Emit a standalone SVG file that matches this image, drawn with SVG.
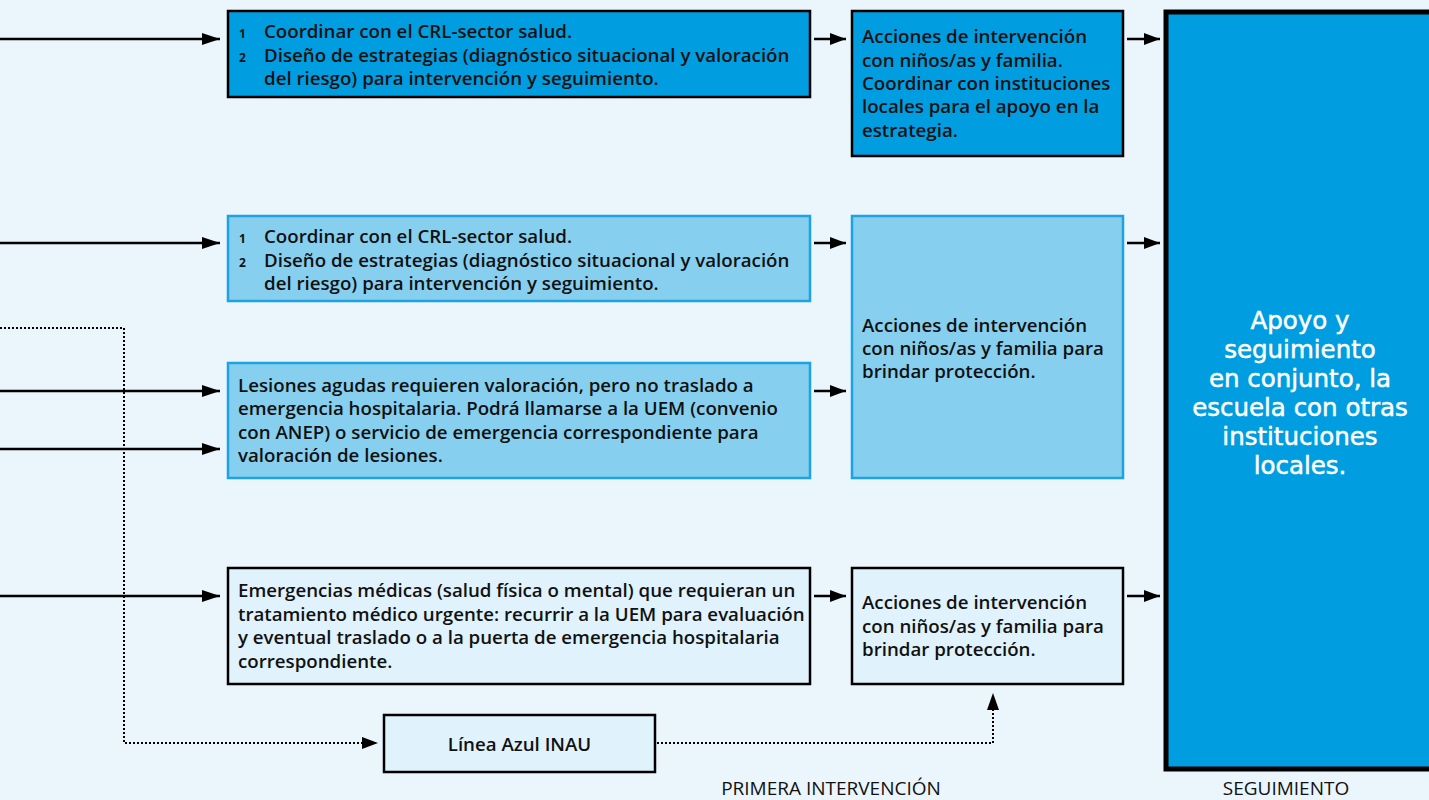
<svg xmlns="http://www.w3.org/2000/svg" width="1429" height="800" viewBox="0 0 1429 800">
<defs>
<style>
.t{font-family:"Open Sans","Liberation Sans",Arial,sans-serif;font-size:18.7px;font-weight:600;fill:#111}
.n{font-family:"Open Sans","Liberation Sans",Arial,sans-serif;font-size:12px;font-weight:700;fill:#111}
.big{font-family:"DejaVu Sans",Verdana,sans-serif;font-size:24.5px;fill:#fff;stroke:#fff;stroke-width:0.5;text-anchor:middle}
.lbl{font-family:"Open Sans","Liberation Sans",Arial,sans-serif;font-size:19px;fill:#111;text-anchor:middle}
.dark{fill:#009ee0;stroke:#000;stroke-width:2.5}
.mid{fill:#86cfef;stroke:#1ea3e2;stroke-width:2.5}
.pale{fill:#e0f2fc;stroke:#000;stroke-width:2.5}
.ln{stroke:#000;stroke-width:2.5;fill:none}
.dot{stroke:#000;stroke-width:2;fill:none;stroke-dasharray:2 2}
</style>
<marker id="ahL" markerWidth="18" markerHeight="12" refX="18" refY="6" orient="auto" markerUnits="userSpaceOnUse" viewBox="0 0 18 12">
<path d="M0,0 L18,6 L0,12 z" fill="#000"/>
</marker>
<marker id="ahS" markerWidth="16" markerHeight="12" refX="16" refY="6" orient="auto" markerUnits="userSpaceOnUse" viewBox="0 0 16 12">
<path d="M0,0 L16,6 L0,12 z" fill="#000"/>
</marker>
</defs>
<rect width="1429" height="800" fill="#eaf5fc"/>

<g id="connectors">
<line class="ln" x1="0" y1="39" x2="220" y2="39" marker-end="url(#ahL)"/>
<line class="ln" x1="0" y1="243" x2="220" y2="243" marker-end="url(#ahL)"/>
<line class="ln" x1="0" y1="391" x2="220" y2="391" marker-end="url(#ahL)"/>
<line class="ln" x1="0" y1="449" x2="220" y2="449" marker-end="url(#ahL)"/>
<line class="ln" x1="0" y1="596" x2="220" y2="596" marker-end="url(#ahL)"/>
<line class="ln" x1="814" y1="39" x2="846" y2="39" marker-end="url(#ahS)"/>
<line class="ln" x1="814" y1="243" x2="846" y2="243" marker-end="url(#ahS)"/>
<line class="ln" x1="814" y1="391" x2="846" y2="391" marker-end="url(#ahS)"/>
<line class="ln" x1="814" y1="596" x2="846" y2="596" marker-end="url(#ahS)"/>
<line class="ln" x1="1127" y1="39" x2="1160" y2="39" marker-end="url(#ahS)"/>
<line class="ln" x1="1127" y1="243" x2="1160" y2="243" marker-end="url(#ahS)"/>
<line class="ln" x1="1127" y1="596" x2="1160" y2="596" marker-end="url(#ahS)"/>
<polyline class="dot" points="0,328 124,328 124,743 370,743"/>
<path d="M362,737 L378,743 L362,749 z" fill="#000"/>
<polyline class="dot" points="657,743 993,743 993,705"/>
<path d="M987,710 L993,693 L999,710 z" fill="#000"/>
</g>

<g id="n1">
<rect class="dark" x="228" y="11" width="582" height="86"/>
<text class="n" x="239" y="38">1</text>
<text class="n" x="239" y="61.5">2</text>
<text class="t" x="264" y="38">Coordinar con el CRL-sector salud.</text>
<text class="t" x="264" y="61.5">Diseño de estrategias (diagnóstico situacional y valoración</text>
<text class="t" x="264" y="85">del riesgo) para intervención y seguimiento.</text>
</g>

<g id="n2">
<rect class="dark" x="852" y="11" width="271" height="145"/>
<text class="t" x="862" y="43">Acciones de intervención</text>
<text class="t" x="862" y="66.5">con niños/as y familia.</text>
<text class="t" x="862" y="90">Coordinar con instituciones</text>
<text class="t" x="862" y="113.3">locales para el apoyo en la</text>
<text class="t" x="862" y="136.6">estrategia.</text>
</g>

<g id="n3">
<rect class="mid" x="228" y="216" width="582" height="85"/>
<text class="n" x="239" y="243">1</text>
<text class="n" x="239" y="266.5">2</text>
<text class="t" x="264" y="243">Coordinar con el CRL-sector salud.</text>
<text class="t" x="264" y="266.5">Diseño de estrategias (diagnóstico situacional y valoración</text>
<text class="t" x="264" y="290">del riesgo) para intervención y seguimiento.</text>
</g>

<g id="n4">
<rect class="mid" x="228" y="363" width="582" height="115"/>
<text class="t" x="238" y="392">Lesiones agudas requieren valoración, pero no traslado a</text>
<text class="t" x="238" y="415">emergencia hospitalaria. Podrá llamarse a la UEM (convenio</text>
<text class="t" x="238" y="438.5">con ANEP) o servicio de emergencia correspondiente  para</text>
<text class="t" x="238" y="462">valoración de lesiones.</text>
</g>

<g id="n5">
<rect class="mid" x="852" y="216" width="271" height="262"/>
<text class="t" x="862" y="331.5">Acciones de intervención</text>
<text class="t" x="862" y="355">con niños/as y familia para</text>
<text class="t" x="862" y="378.3">brindar protección.</text>
</g>

<g id="n6">
<rect class="pale" x="228" y="568" width="582" height="116"/>
<text class="t" x="238" y="597">Emergencias médicas (salud física o mental) que requieran un</text>
<text class="t" x="238" y="620.5">tratamiento médico urgente: recurrir a la UEM para evaluación</text>
<text class="t" x="238" y="644">y eventual traslado o a la puerta de emergencia hospitalaria</text>
<text class="t" x="238" y="667.5">correspondiente.</text>
</g>

<g id="n7">
<rect class="pale" x="852" y="568" width="271" height="116"/>
<text class="t" x="862" y="609">Acciones de intervención</text>
<text class="t" x="862" y="632.5">con niños/as y familia para</text>
<text class="t" x="862" y="656">brindar protección.</text>
</g>

<g id="n8">
<rect class="pale" x="384" y="715" width="271" height="57"/>
<text class="t" x="519.5" y="751" text-anchor="middle">Línea Azul INAU</text>
</g>

<g id="n9">
<rect x="1166" y="12" width="270" height="757" fill="#009ee0" stroke="#000" stroke-width="5"/>
<text class="big" x="1300" y="329">Apoyo y</text>
<text class="big" x="1300" y="358">seguimiento</text>
<text class="big" x="1300" y="387">en conjunto, la</text>
<text class="big" x="1300" y="416">escuela con otras</text>
<text class="big" x="1300" y="445">instituciones</text>
<text class="big" x="1300" y="474">locales.</text>
</g>

<g id="labels">
<text class="lbl" x="831" y="795">PRIMERA INTERVENCIÓN</text>
<text class="lbl" x="1286" y="795">SEGUIMIENTO</text>
</g>
</svg>
